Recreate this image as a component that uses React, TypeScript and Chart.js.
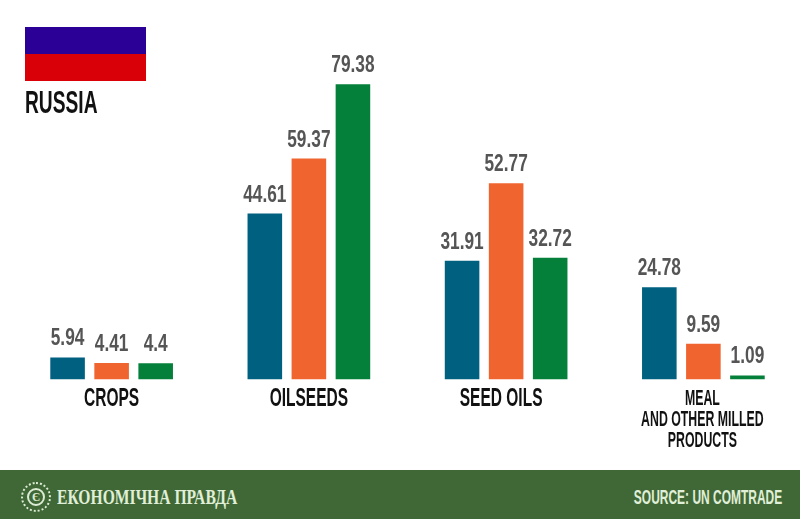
import React, { useEffect, useRef } from "react";
import { Chart, registerables } from "chart.js";

Chart.register(...registerables);

const categories: (string | string[])[] = ["CROPS", "OILSEEDS", "SEED OILS", ["MEAL", "AND OTHER MILLED", "PRODUCTS"]];
const seriesBlue = [5.94, 44.61, 31.91, 24.78];
const seriesOrange = [4.41, 59.37, 52.77, 9.59];
const seriesGreen = [4.4, 79.38, 32.72, 1.09];
const labelsBlue = ["5.94", "44.61", "31.91", "24.78"];
const labelsOrange = ["4.41", "59.37", "52.77", "9.59"];
const labelsGreen = ["4.4", "79.38", "32.72", "1.09"];

const SANS = '"Liberation Sans", sans-serif';
const SERIF = '"Liberation Serif", serif';

function squeezedText(ctx: any, text: string, x: number, y: number, sx: number) {
  ctx.save();
  ctx.translate(x, y);
  ctx.scale(sx, 1);
  ctx.fillText(text, 0, 0);
  ctx.restore();
}

const valueLabels = {
  id: "valueLabels",
  afterDatasetsDraw(chart: any) {
    const { ctx } = chart;
    ctx.save();
    ctx.font = `bold 24px ${SANS}`;
    ctx.fillStyle = "#555555";
    ctx.textAlign = "center";
    ctx.textBaseline = "alphabetic";
    chart.data.datasets.forEach((ds: any, i: number) => {
      chart.getDatasetMeta(i).data.forEach((bar: any, j: number) => {
        squeezedText(ctx, ds.valueText[j], bar.x, bar.y - 12, 0.72);
      });
    });
    ctx.restore();
  },
};

const categoryLabels = {
  id: "categoryLabels",
  afterDatasetsDraw(chart: any) {
    const { ctx, scales } = chart;
    const sc = scales.x;
    ctx.save();
    ctx.fillStyle = "#111111";
    ctx.textAlign = "center";
    ctx.textBaseline = "alphabetic";
    chart.data.labels.forEach((lab: string | string[], i: number) => {
      const x = sc.getPixelForTick(i);
      if (Array.isArray(lab)) {
        ctx.font = `bold 22px ${SANS}`;
        lab.forEach((line, k) => squeezedText(ctx, line, x - 1, sc.top + 25 + k * 21, 0.56));
      } else {
        ctx.font = `bold 25px ${SANS}`;
        squeezedText(ctx, lab, lab === "SEED OILS" ? x - 5 : x, sc.top + 26, 0.62);
      }
    });
    ctx.restore();
  },
};

export default function App() {
  const ref = useRef<HTMLCanvasElement>(null);
  useEffect(() => {
    const common = { categoryPercentage: 0.67, barPercentage: 0.785, borderWidth: 0 };
    const chart = new Chart(ref.current!, {
      type: "bar",
      data: {
        labels: categories as any,
        datasets: [
          { label: "Series 1", data: seriesBlue, backgroundColor: "#00607F", valueText: labelsBlue, ...common },
          { label: "Series 2", data: seriesOrange, backgroundColor: "#F06430", valueText: labelsOrange, ...common },
          { label: "Series 3", data: seriesGreen, backgroundColor: "#05803A", valueText: labelsGreen, ...common },
        ] as any,
      },
      options: {
        responsive: false,
        animation: false,
        layout: { padding: { left: 13, right: 0, top: 0, bottom: 0 } },
        plugins: { legend: { display: false }, tooltip: { enabled: false }, title: { display: false } },
        scales: {
          y: { display: false, min: 0, max: 102 },
          x: {
            afterFit: (s: any) => { s.height = 139.5; },
            grid: { display: false },
            border: { display: false },
            ticks: { display: false, autoSkip: false, maxRotation: 0, minRotation: 0 },
          },
        },
      },
      plugins: [valueLabels, categoryLabels],
    });
    return () => chart.destroy();
  }, []);

  return (
    <div style={{ position: "fixed", left: 0, top: 0, width: 800, height: 519, overflow: "hidden", background: "#fff" }}>
      <canvas ref={ref} width={802} height={519} style={{ position: "absolute", left: 0, top: 0 }} />
      <div style={{ position: "absolute", left: 25, top: 27, width: 121, height: 27, background: "#2A0096" }} />
      <div style={{ position: "absolute", left: 25, top: 54, width: 121, height: 27, background: "#D90007" }} />
      <div style={{ position: "absolute", left: 25, top: 84, fontFamily: SANS, fontWeight: 700, fontSize: 32, lineHeight: "36px", color: "#111", transform: "scaleX(0.6)", transformOrigin: "left center", whiteSpace: "nowrap" }}>RUSSIA</div>
      <div style={{ position: "absolute", left: 0, top: 470, width: 800, height: 49, background: "#3F6836" }}>
        <div style={{ position: "absolute", left: 21, top: 12, width: 26, height: 26, borderRadius: "50%", border: "2px dotted #DCEBD4" }} />
        <div style={{ position: "absolute", left: 27, top: 18, width: 14, height: 14, borderRadius: "50%", border: "2px solid #DCEBD4", textAlign: "center", color: "#DCEBD4", fontFamily: SERIF, fontWeight: 700, fontSize: 12, lineHeight: "14px" }}>Є</div>
        <div style={{ position: "absolute", left: 57, top: 14, fontFamily: SERIF, fontWeight: 700, fontSize: 22, lineHeight: "26px", color: "#E0EFD8", whiteSpace: "nowrap", transform: "scaleX(0.71)", transformOrigin: "left center" }}>ЕКОНОМІЧНА ПРАВДА</div>
        <div style={{ position: "absolute", right: 18, top: 14, fontFamily: SANS, fontWeight: 700, fontSize: 21, lineHeight: "26px", color: "#E0EFD8", whiteSpace: "nowrap", transform: "scaleX(0.57)", transformOrigin: "right center" }}>SOURCE: UN COMTRADE</div>
      </div>
    </div>
  );
}
